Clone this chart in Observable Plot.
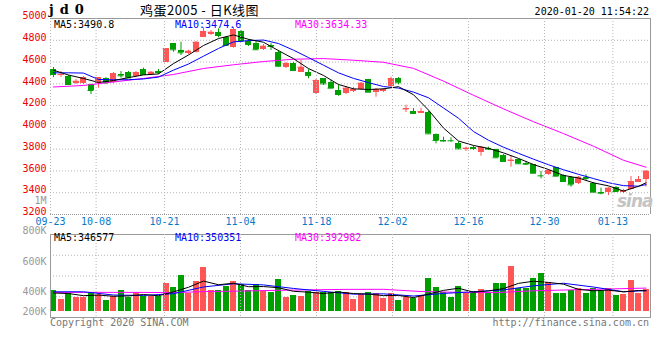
<!DOCTYPE html>
<html><head><meta charset="utf-8">
<script src="https://cdn.jsdelivr.net/npm/d3@7"></script>
<script src="https://cdn.jsdelivr.net/npm/@observablehq/plot@0.6"></script>
<style>
html,body{margin:0;padding:0;background:#fff}
#chart{position:relative;width:660px;height:360px;overflow:hidden;background:#fff;font-family:"DejaVu Sans Mono",monospace;font-size:10px}
#chart svg{position:absolute;left:0;top:0}
.t{position:absolute;white-space:nowrap;line-height:10px;font-size:10px;font-family:"DejaVu Sans Mono",monospace}
</style></head><body>
<div id="chart"></div>
<script>
// ---------- data (daily K line, jd2005, 2019-09-23 .. 2020-01-17) ----------
const open = [4536,4478,4467,4406,4403,4391,4400,4446,4410,4483,
  4501,4467,4532,4486,4513,4599,4768,4706,4676,4690,
  4828,4853,4874,4823,4736,4881,4792,4773,4715,4752,
  4690,4547,4584,4507,4507,4308,4446,4415,4339,4308,
  4330,4345,4437,4323,4327,4376,4452,4160,4149,4130,
  4139,3932,3884,3882,3855,3797,3813,3772,3806,3794,
  3742,3691,3702,3668,3656,3561,3565,3629,3558,3542,
  3482,3537,3487,3402,3399,3451,3399,3430,3497,3521];
const high = [4550,4513,4477,4440,4467,4398,4458,4458,4504,4513,
  4513,4513,4544,4513,4532,4724,4770,4782,4709,4789,
  4915,4890,4905,4835,4917,4890,4807,4789,4761,4770,
  4706,4596,4596,4614,4529,4440,4449,4431,4385,4376,
  4366,4412,4440,4357,4357,4461,4458,4204,4173,4176,
  4146,3939,3910,3904,3866,3818,3827,3824,3818,3800,
  3751,3742,3711,3687,3659,3595,3613,3632,3563,3549,
  3549,3565,3494,3442,3448,3457,3430,3549,3549,3604];
const low = [4458,4458,4385,4394,4394,4302,4360,4394,4403,4452,
  4449,4458,4477,4477,4486,4596,4690,4660,4669,4683,
  4825,4844,4823,4743,4727,4789,4743,4706,4706,4706,
  4550,4541,4513,4504,4446,4302,4385,4357,4286,4302,
  4320,4339,4320,4277,4320,4366,4391,4137,4118,4128,
  3935,3849,3864,3864,3797,3779,3788,3735,3788,3714,
  3678,3634,3659,3650,3574,3528,3561,3546,3498,3451,
  3475,3512,3402,3381,3374,3407,3393,3425,3494,3451];
const close = [4486,4485,4394,4424,4455,4339,4455,4410,4492,4474,
  4455,4501,4486,4507,4504,4722,4713,4685,4700,4782,
  4881,4874,4844,4752,4896,4792,4761,4713,4746,4743,
  4562,4584,4522,4553,4477,4431,4400,4360,4302,4360,
  4348,4406,4323,4348,4345,4446,4410,4169,4128,4146,
  3941,3880,3875,3877,3803,3809,3806,3818,3800,3721,
  3687,3700,3666,3662,3579,3555,3604,3552,3503,3473,
  3542,3531,3405,3396,3442,3411,3420,3503,3521,3598];
const volume = [352000,199000,294000,238000,238000,323000,277000,182000,250000,352000,
  238000,323000,255000,250000,250000,476000,408000,607000,294000,505000,
  748000,352000,352000,420000,505000,454000,352000,447000,335000,323000,
  539000,226000,267000,255000,335000,323000,318000,323000,335000,323000,
  199000,277000,323000,306000,221000,306000,182000,238000,209000,267000,
  561000,408000,323000,238000,420000,306000,335000,369000,294000,464000,
  464000,765000,379000,379000,561000,634000,493000,306000,306000,352000,
  391000,306000,379000,335000,379000,267000,284000,522000,306000,362000];

// moving-average lines (candle index -> value)
const maEvenIdx = [0,2,4,6,8,10,12,14,16,18,20,22,24,26,28,30,32,34,36,38,40,42,44,46,48,50,52,54,56,58,60,62,64,66,68,70,72,74,76,78,79];
const ma5Val = [4525,4481,4449,4413,4430,4457,4482,4491,4586,4665,4752,4816,4849,4809,4782,4705,4631,4540,4477,4394,4354,4348,4354,4374,4300,4159,3994,3875,3834,3807,3766,3715,3659,3613,3559,3535,3491,3463,3415,3459,3490.8];
const ma10Val = [4501,4501,4499,4440,4437,4438,4445,4462,4526,4582,4654,4725,4785,4797,4802,4770,4709,4641,4571,4501,4450,4411,4375,4361,4324,4272,4178,4084,3962,3882,3818,3762,3708,3657,3611,3569,3530,3492,3465,3460,3474.6];
const ma30Idx = [0,4,8,12,16,20,24,28,32,36,40,44,48,52,56,60,64,68,72,76,79];
const ma30Val = [4371,4385,4417,4449,4486,4541,4575,4605,4626,4632,4617,4598,4542,4425,4295,4170,4052,3943,3827,3698,3634.33];

const vma5Val = [310000,300000,264000,274000,254000,260000,284000,263000,328000,407000,512000,450000,475000,417000,419000,399000,338000,324000,300000,327000,300000,291000,265000,268000,231000,291000,354000,390000,324000,345000,385000,473000,510000,489000,460000,370000,347000,358000,329000,352000,346577];
const vma10Idx = [0,4,8,12,16,20,24,28,32,36,40,44,48,52,56,60,64,68,72,76,79];
const vma10Val = [330000,330000,275000,268000,298000,412000,467000,447000,387000,337000,290000,295000,258000,302000,331000,362000,432000,475000,411000,331000,350351];
const vma30Idx = [0,4,8,12,16,20,24,29,34,39,44,49,54,59,64,69,74,79];
const vma30Val = [320000,320000,320000,320000,315000,333000,340000,353000,363000,371000,372000,335000,321000,316000,347000,363000,378000,392982];

// axis labels
const dateIdx = [0,6,15,25,35,45,55,65,74];
const dateLabels = ["09-23","10-08","10-21","11-04","11-18","12-02","12-16","12-30","01-13"];
const priceTicks = [3200,3400,3600,3800,4000,4200,4400,4600,4800,5000];
const volTickVals = [200000,400000,600000,800000,1000000];
const volTickLabels = ["200K","400K","600K","800K","1M"];

// ---------- drawing ----------
const RED = "#ff5555", GREEN = "#009f00", GRID = "#b4b4b4", EDGE = "#999999";
const MONO = "DejaVu Sans Mono, monospace";
const N = open.length;
const HALF = 0.4;
const candles = d3.range(N).map(i => ({i, o: open[i], h: high[i], l: low[i], c: close[i], v: volume[i], up: close[i] >= open[i]}));
const groups = [[candles.filter(d => d.up), RED], [candles.filter(d => !d.up), GREEN]];
const pts = (idx, val) => idx.map((i, k) => ({i, v: val[k]}));
const chart = document.getElementById("chart");
const base = {width: 660, height: 360, marginLeft: 50, marginRight: 10, style: {background: "transparent", overflow: "visible"}};
const xCandle = {domain: [-HALF, N - HALF], axis: null};

// volume panel
const vDomain = [-107000, 1304000];
const vGrid = [1, 2, 3].map(k => vDomain[0] + k * (vDomain[1] - vDomain[0]) / 4);
const volPlot = Plot.plot({
  ...base, marginTop: 234, marginBottom: 43,
  x: xCandle, y: {domain: vDomain, axis: null},
  marks: [
    Plot.ruleY(vGrid, {stroke: GRID, strokeDasharray: "1,2"}),
    ...groups.map(([g, col]) => Plot.rect(g, {x1: d => d.i - HALF, x2: d => d.i + HALF, y1: () => 0, y2: "v", fill: col, shapeRendering: "crispEdges"})),
    Plot.line(pts(vma30Idx, vma30Val), {x: "i", y: "v", stroke: "#ff00ff", strokeWidth: 1}),
    Plot.line(pts(vma10Idx, vma10Val), {x: "i", y: "v", stroke: "#0000ff", strokeWidth: 1}),
    Plot.line(pts(maEvenIdx, vma5Val), {x: "i", y: "v", stroke: "#000", strokeWidth: 1}),
    Plot.frame({stroke: EDGE})
  ]
});

// price panel
const pricePlot = Plot.plot({
  ...base, marginTop: 18, marginBottom: 146,
  x: xCandle, y: {domain: [3200, 5000], axis: null},
  marks: [
    Plot.ruleY(priceTicks.filter(t => t > 3200 && t < 5000), {stroke: GRID, strokeDasharray: "1,2"}),
    Plot.ruleX([-HALF], {stroke: GRID, strokeDasharray: "1,2"}),
    Plot.ruleY([3200], {stroke: EDGE, strokeDasharray: "1,1"}),
    Plot.ruleY([5000], {stroke: EDGE}),
    Plot.ruleX([N - HALF], {stroke: EDGE}),
    ...groups.flatMap(([g, col]) => [
      Plot.ruleX(g, {x: "i", y1: "l", y2: "h", stroke: col}),
      Plot.rect(g, {x1: d => d.i - HALF, x2: d => d.i + HALF, y1: "o", y2: "c", fill: col, shapeRendering: "crispEdges"}),
      Plot.ruleY(g, {y: "c", x1: d => d.i - HALF, x2: d => d.i + HALF, stroke: col})
    ]),
    Plot.line(pts(ma30Idx, ma30Val), {x: "i", y: "v", stroke: "#ff00ff", strokeWidth: 1}),
    Plot.line(pts(maEvenIdx, ma10Val), {x: "i", y: "v", stroke: "#0000ff", strokeWidth: 1}),
    Plot.line(pts(maEvenIdx, ma5Val), {x: "i", y: "v", stroke: "#000", strokeWidth: 1}),
    Plot.text(priceTicks, {y: d => d, text: d => String(d), frameAnchor: "left", dx: -4, dy: -2.5, textAnchor: "end", fill: "#ee0000", fontFamily: MONO, fontSize: 10})
  ]
});

// trading-day date grid + labels (main panel)
const xDate = {domain: [0, N - 1], axis: null};
const dateGridTop = Plot.plot({
  ...base, marginRight: 9.6, marginTop: 18, marginBottom: 146,
  x: xDate,
  marks: [
    Plot.ruleX(dateIdx.slice(1), {stroke: GRID, strokeDasharray: "1,2"}),
    Plot.text(dateIdx, {x: d => d, text: (d, i) => dateLabels[i], frameAnchor: "bottom", lineAnchor: "top", dy: 3, fill: "#0a78c8", fontFamily: MONO, fontSize: 10})
  ]
});

// date grid (volume panel) + volume axis labels
const dateGridVol = Plot.plot({
  ...base, marginRight: 9.6, marginTop: 234, marginBottom: 43,
  x: xDate, y: {domain: [270000, 1000000], range: [311, 200], clamp: true, axis: null},
  marks: [
    Plot.ruleX(dateIdx.slice(1), {stroke: GRID, strokeDasharray: "1,2"}),
    Plot.text(volTickVals, {y: d => d, text: (d, i) => volTickLabels[i], frameAnchor: "left", dx: -4, textAnchor: "end", fill: "#999", fontFamily: MONO, fontSize: 10})
  ]
});

[volPlot, pricePlot, dateGridTop, dateGridVol].forEach(p => chart.appendChild(p));

// ---------- text ----------
function addText(str, pos, color, extra) {
  const el = document.createElement("div");
  el.className = "t";
  el.textContent = str;
  el.style.color = color;
  Object.assign(el.style, pos, extra || {});
  chart.appendChild(el);
}
addText("jd0", {left: "49px", top: "4px"}, "#000", {fontFamily: "DejaVu Serif, serif", fontWeight: "bold", fontSize: "13px", lineHeight: "12px", letterSpacing: "6px"});
addText("鸡蛋2005 - 日K线图", {left: "140px", top: "3px"}, "#000", {fontFamily: "Noto Sans CJK SC, sans-serif", fontSize: "13px", lineHeight: "14px", letterSpacing: "0.5px"});
addText("2020-01-20 11:54:22", {right: "11px", top: "7px"}, "#000");
const lastOf = a => a[a.length - 1];
addText("MA5:" + lastOf(ma5Val), {left: "54px", top: "20px"}, "#000");
addText("MA10:" + lastOf(ma10Val), {left: "175px", top: "20px"}, "#0000ff");
addText("MA30:" + lastOf(ma30Val), {left: "295px", top: "20px"}, "#ff00ff");
addText("MA5:" + lastOf(vma5Val), {left: "54px", top: "233px"}, "#000");
addText("MA10:" + lastOf(vma10Val), {left: "175px", top: "233px"}, "#0000ff");
addText("MA30:" + lastOf(vma30Val), {left: "295px", top: "233px"}, "#ff00ff");
addText("Copyright 2020 SINA.COM", {left: "50px", top: "318px"}, "#777");
addText("http://finance.sina.com.cn", {right: "11px", top: "318px"}, "#777");
addText("sina", {left: "617px", top: "193px"}, "#c4c4c4", {fontFamily: "DejaVu Sans, sans-serif", fontStyle: "italic", fontWeight: "bold", fontSize: "17px", lineHeight: "17px", letterSpacing: "-1px"});
</script>
</body></html>
